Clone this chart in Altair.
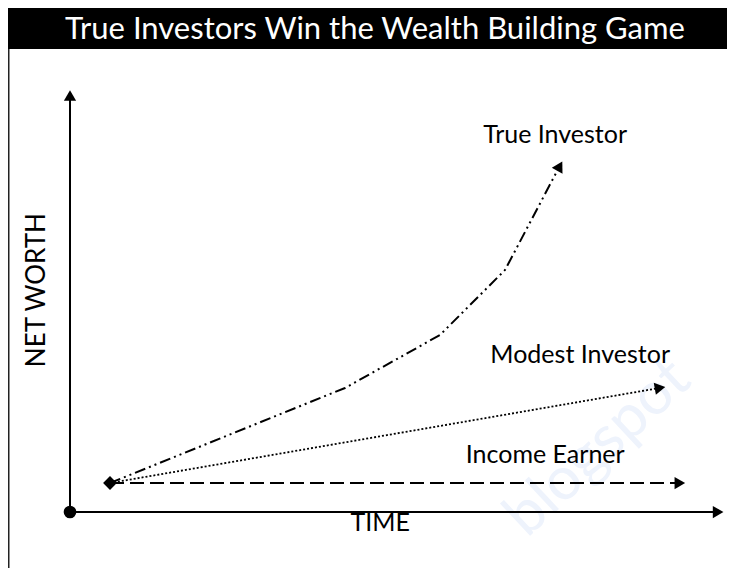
import altair as alt
import pandas as pd

# ---- data (time / net worth units; axes origin at 0,0) ----
true_t = [6.06, 41.67, 56.06, 65.91, 74.2]
true_w = [6.82, 29.18, 41.65, 56.94, 81.4]
modest_t = [6.06, 89.4]
modest_w = [6.82, 29.2]
income_t = [6.06, 92.4]
income_w = [6.82, 6.82]

xaxis_t = [0, 98.2]
xaxis_w = [0, 0]
yaxis_t = [0, 0]
yaxis_w = [0, 98.0]

arrow_t = [74.2, 89.4, 92.4, 98.2, 0]
arrow_w = [81.4, 29.2, 6.82, 0, 98.0]
arrow_angle = [299, 350, 0, 0, 270]

label_text = ["True Investor", "Modest Investor", "Income Earner", "TIME"]
label_t = [73.5, 77.3, 72.0, 47.0]
label_w = [88.7, 36.9, 13.4, -2.6]

title_text = "True Investors Win the Wealth Building Game"
ylabel_text = "NET WORTH"
watermark_text = "blogspot"

FONT = "Lato"
W, H = 719, 560
xs = alt.Scale(domain=[-9.394, 99.545], nice=False, zero=False)
ys = alt.Scale(domain=[-13.176, 118.588], nice=False, zero=False)

def X():
    return alt.X("t:Q", scale=xs, axis=None)

def Y():
    return alt.Y("w:Q", scale=ys, axis=None)

one = pd.DataFrame({"a": [0]})

bar = alt.Chart(one).mark_rect(color="black").encode(
    x=alt.value(0), x2=alt.value(W), y=alt.value(0), y2=alt.value(41))
border = alt.Chart(one).mark_rule(color="#222", strokeWidth=1.5).encode(
    x=alt.value(0.75), y=alt.value(41), y2=alt.value(H))
title = alt.Chart(one).mark_text(
    text=title_text, color="white", font=FONT, fontSize=31,
    align="center", baseline="middle").encode(x=alt.value(367), y=alt.value(22))

watermark = alt.Chart(one).mark_text(
    text=watermark_text, color="#eef3fc", font=FONT, fontSize=60, angle=317,
    align="center", baseline="middle").encode(x=alt.value(590), y=alt.value(440))

xaxis = alt.Chart(pd.DataFrame({"t": xaxis_t, "w": xaxis_w})).mark_line(
    color="black", strokeWidth=2).encode(x=X(), y=Y())
yaxis = alt.Chart(pd.DataFrame({"t": yaxis_t, "w": yaxis_w, "o": [0, 1]})).mark_line(
    color="black", strokeWidth=2).encode(x=X(), y=Y(), order="o:Q")

true_line = alt.Chart(pd.DataFrame({"t": true_t, "w": true_w})).mark_line(
    color="black", strokeWidth=2, strokeDash=[11, 4, 2, 4, 2, 4]).encode(x=X(), y=Y())
modest_line = alt.Chart(pd.DataFrame({"t": modest_t, "w": modest_w})).mark_line(
    color="black", strokeWidth=1.8, strokeDash=[2, 2]).encode(x=X(), y=Y())
income_line = alt.Chart(pd.DataFrame({"t": income_t, "w": income_w})).mark_line(
    color="black", strokeWidth=2, strokeDash=[14, 6]).encode(x=X(), y=Y())

arrows = alt.Chart(pd.DataFrame({"t": arrow_t, "w": arrow_w, "ang": arrow_angle})).mark_point(
    shape="triangle-right", filled=True, color="black", size=150, opacity=1).encode(
    x=X(), y=Y(), angle=alt.Angle("ang:Q", scale=None))

origin = alt.Chart(pd.DataFrame({"t": [0], "w": [0]})).mark_point(
    shape="circle", filled=True, color="black", size=160, opacity=1).encode(x=X(), y=Y())
start = alt.Chart(pd.DataFrame({"t": [true_t[0]], "w": [true_w[0]]})).mark_point(
    shape="diamond", filled=True, color="black", size=190, opacity=1).encode(x=X(), y=Y())

labels = alt.Chart(pd.DataFrame({"t": label_t, "w": label_w, "txt": label_text})).mark_text(
    font=FONT, fontSize=25, color="black", align="center", baseline="middle").encode(
    x=X(), y=Y(), text="txt:N")

ylabel = alt.Chart(pd.DataFrame({"t": [-5.0], "w": [52.2], "txt": [ylabel_text]})).mark_text(
    font=FONT, fontSize=26, color="black", align="center", baseline="middle", angle=270).encode(
    x=X(), y=Y(), text="txt:N")

chart = alt.layer(
    watermark, bar, border, title, xaxis, yaxis, true_line, modest_line, income_line,
    arrows, origin, start, labels, ylabel
).properties(
    width=W, height=H, autosize=alt.AutoSizeParams(type="none"), padding=0
).configure_view(stroke=None)

chart.save("out.html", embed_options={"renderer": "svg", "actions": False})
